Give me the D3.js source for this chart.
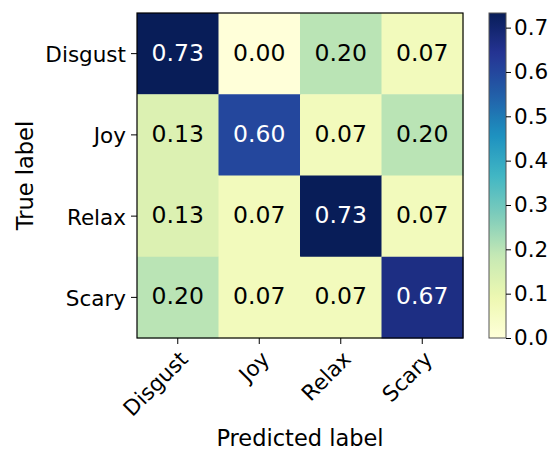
<!DOCTYPE html>
<html><head><meta charset="utf-8">
<script src="https://cdn.jsdelivr.net/npm/d3@7"></script>
<style>body{margin:0;background:#fff}text{font-family:"DejaVu Sans",sans-serif;}</style>
</head><body><svg id="c" width="558" height="451"></svg>
<script>
const classes = ["Disgust","Joy","Relax","Scary"];
const matrix = [
  [0.733,0.000,0.200,0.067],
  [0.133,0.600,0.067,0.200],
  [0.133,0.067,0.733,0.067],
  [0.200,0.067,0.067,0.667]
];
const cbarTicks = [0.0,0.1,0.2,0.3,0.4,0.5,0.6,0.7];
const ylgnbu = ["#ffffd9","#edf8b1","#c7e9b4","#7fcdbb","#41b6c4","#1d91c0","#225ea8","#253494","#081d58"];

const svg = d3.select("#c");
const fs = 21.5, fsCell = 23.5, fsLab = 22.5;
const L=137, T=13, W=326, H=325;
const vmax = d3.max(matrix.flat());
const cmap = d3.scaleLinear().domain(d3.range(9).map(i=>i/8)).range(ylgnbu).interpolate(d3.interpolateRgb);
const color = v => cmap(v/vmax);

const x = d3.scaleBand().domain(classes).range([L, L+W]);
const y = d3.scaleBand().domain(classes).range([T, T+H]);

const cells = [];
matrix.forEach((row,i)=>row.forEach((v,j)=>cells.push({r:classes[i],c:classes[j],v})));
svg.selectAll("rect.cell").data(cells).enter().append("rect")
  .attr("x",d=>x(d.c)).attr("y",d=>y(d.r)).attr("width",x.bandwidth()+0.5).attr("height",y.bandwidth()+0.5)
  .attr("fill",d=>color(d.v));
svg.selectAll("text.val").data(cells).enter().append("text")
  .attr("x",d=>x(d.c)+x.bandwidth()/2).attr("y",d=>y(d.r)+y.bandwidth()/2)
  .attr("dy","0.3em").attr("text-anchor","middle").attr("font-size",fsCell)
  .attr("fill",d=>d.v>vmax/2?"#fff":"#000").text(d=>d.v.toFixed(2));
svg.append("rect").attr("x",L).attr("y",T).attr("width",W).attr("height",H)
  .attr("fill","none").attr("stroke","#000").attr("stroke-width",1.2);

// y axis
const ya = svg.append("g").attr("transform",`translate(${L},0)`)
  .call(d3.axisLeft(y).tickSize(6).tickPadding(5));
ya.select(".domain").remove();
ya.selectAll("text").attr("font-size",fs).attr("fill","#000").style("font-family","DejaVu Sans").attr("dy","0.4em");
// x axis
const xa = svg.append("g").attr("transform",`translate(0,${T+H})`)
  .call(d3.axisBottom(x).tickSize(6).tickPadding(5));
xa.select(".domain").remove();
xa.selectAll("text").attr("font-size",fs).attr("fill","#000").style("font-family","DejaVu Sans")
  .attr("text-anchor","end").attr("y",0).attr("dy","0.76em")
  .attr("transform","translate(0,11) rotate(-45)");

svg.append("text").attr("transform",`translate(33,${T+H/2}) rotate(-90)`).attr("text-anchor","middle")
  .attr("font-size",fsLab).text("True label");
svg.append("text").attr("x",L+W/2).attr("y",446).attr("text-anchor","middle")
  .attr("font-size",fsLab).text("Predicted label");

// colorbar
const cbX=489, cbW=17;
const cy = d3.scaleLinear().domain([0,vmax]).range([T+H, T]);
const defs = svg.append("defs");
const g = defs.append("linearGradient").attr("id","cb").attr("x1",0).attr("y1",1).attr("x2",0).attr("y2",0);
d3.range(0,1.0001,0.02).forEach(t=>g.append("stop").attr("offset",t).attr("stop-color",cmap(t)));
svg.append("rect").attr("x",cbX).attr("y",T).attr("width",cbW).attr("height",H).attr("fill","url(#cb)")
  .attr("stroke","#555").attr("stroke-width",1);
const ca = svg.append("g").attr("transform",`translate(${cbX+cbW},0)`)
  .call(d3.axisRight(cy).tickValues(cbarTicks).tickFormat(d3.format(".1f")).tickSize(5).tickPadding(3));
ca.select(".domain").remove();
ca.selectAll("text").attr("font-size",fs).attr("fill","#000").style("font-family","DejaVu Sans");
</script></body></html>
